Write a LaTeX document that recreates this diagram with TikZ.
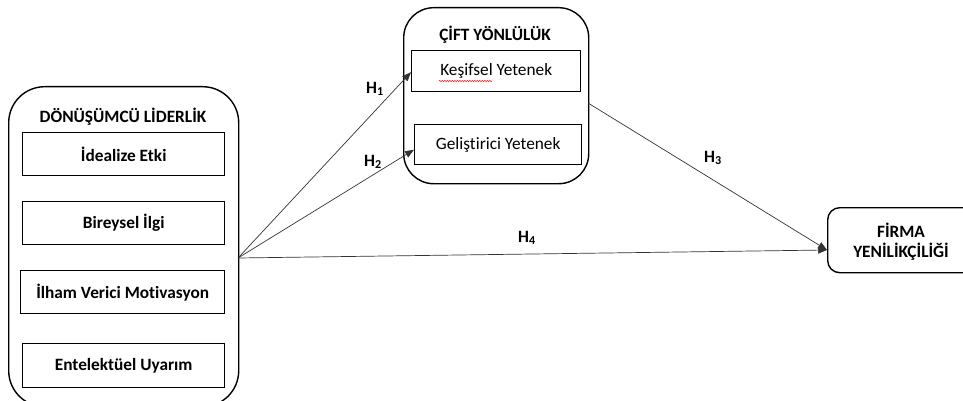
\documentclass[tikz,border=0pt]{standalone}
\usepackage{fontspec}
\setmainfont{Carlito}[Ligatures=NoCommon]
\usetikzlibrary{arrows.meta,decorations.pathmorphing}
\tikzset{
  outer/.style={draw=black, line width=1.4pt, rounded corners=#1},
  inner/.style={draw=black, line width=1.4pt},
  lbl/.style={font=\bfseries\fontsize{17.3}{19}\selectfont, text=black},
  btxt/.style={font=\bfseries\fontsize{17.3}{19}\selectfont, align=center},
  ntxt/.style={font=\fontsize{17.3}{19}\selectfont},
  conn/.style={draw=black!80, line width=0.7pt, -{Triangle[length=9pt,width=7pt]}},
}
\begin{document}
\begin{tikzpicture}[x=1pt,y=-1pt]
\useasboundingbox (0,0) rectangle (963,401);
\clip (0,0) rectangle (963,401);
% left big box
\node[outer=36pt, minimum width=230pt, minimum height=320pt, anchor=north west, inner sep=0pt] (L) at (8,86) {};
\node[btxt] (Lt) at (123,117) {DÖNÜŞÜMCÜ LİDERLİK};
\node[inner, minimum width=202pt, minimum height=43pt, anchor=north west, inner sep=0pt, btxt] (A) at (22,132) {İdealize Etki};
\node[inner, minimum width=202pt, minimum height=43pt, anchor=north west, inner sep=0pt, btxt] (B) at (22,201) {Bireysel İlgi};
\node[inner, minimum width=204pt, minimum height=43pt, anchor=north west, inner sep=0pt, btxt] (C) at (20,270) {İlham Verici Motivasyon};
\node[inner, minimum width=202pt, minimum height=44pt, anchor=north west, inner sep=0pt, btxt] (D) at (22,343) {Entelektüel Uyarım};
% middle box
\node[outer=30pt, minimum width=185pt, minimum height=176pt, anchor=north west, inner sep=0pt] (M) at (403,7) {};
\node[btxt] (Mt) at (495,35) {ÇİFT YÖNLÜLÜK};
\node[inner, minimum width=169pt, minimum height=41pt, anchor=north west, inner sep=0pt, ntxt] (K) at (411,50) {Keşifsel Yetenek};
\node[inner, minimum width=167pt, minimum height=40pt, anchor=north west, inner sep=0pt, ntxt] (G) at (414,124) {Geliştirici Yetenek};
\draw[red, line width=0.5pt, decorate, decoration={snake, amplitude=0.6pt, segment length=2.5pt}] (439,81) -- (492,81);
% right box
\node[outer=12pt, minimum width=175pt, minimum height=65pt, anchor=north west, inner sep=0pt] (F) at (827,207) {};
\node[btxt] (Ft) at (901,242) {FİRMA\\[1pt]YENİLİKÇİLİĞİ};
% connectors
\coordinate (src) at (238,258);
\coordinate (fin) at (827,250);
\coordinate (m3) at (588,103);
\draw[conn] (src) -- ([yshift=-1pt]K.west);
\draw[conn] (src) -- ([yshift=-5pt]G.west);
\draw[conn] (m3) -- (fin);
\draw[conn] (src) -- (fin);
% labels
\node[lbl] (h1) at (375,89) {H\textsubscript{1}};
\node[lbl] (h2) at (373,162) {H\textsubscript{2}};
\node[lbl] (h3) at (713,158) {H\textsubscript{3}};
\node[lbl] (h4) at (527,238) {H\textsubscript{4}};
\end{tikzpicture}
\end{document}
